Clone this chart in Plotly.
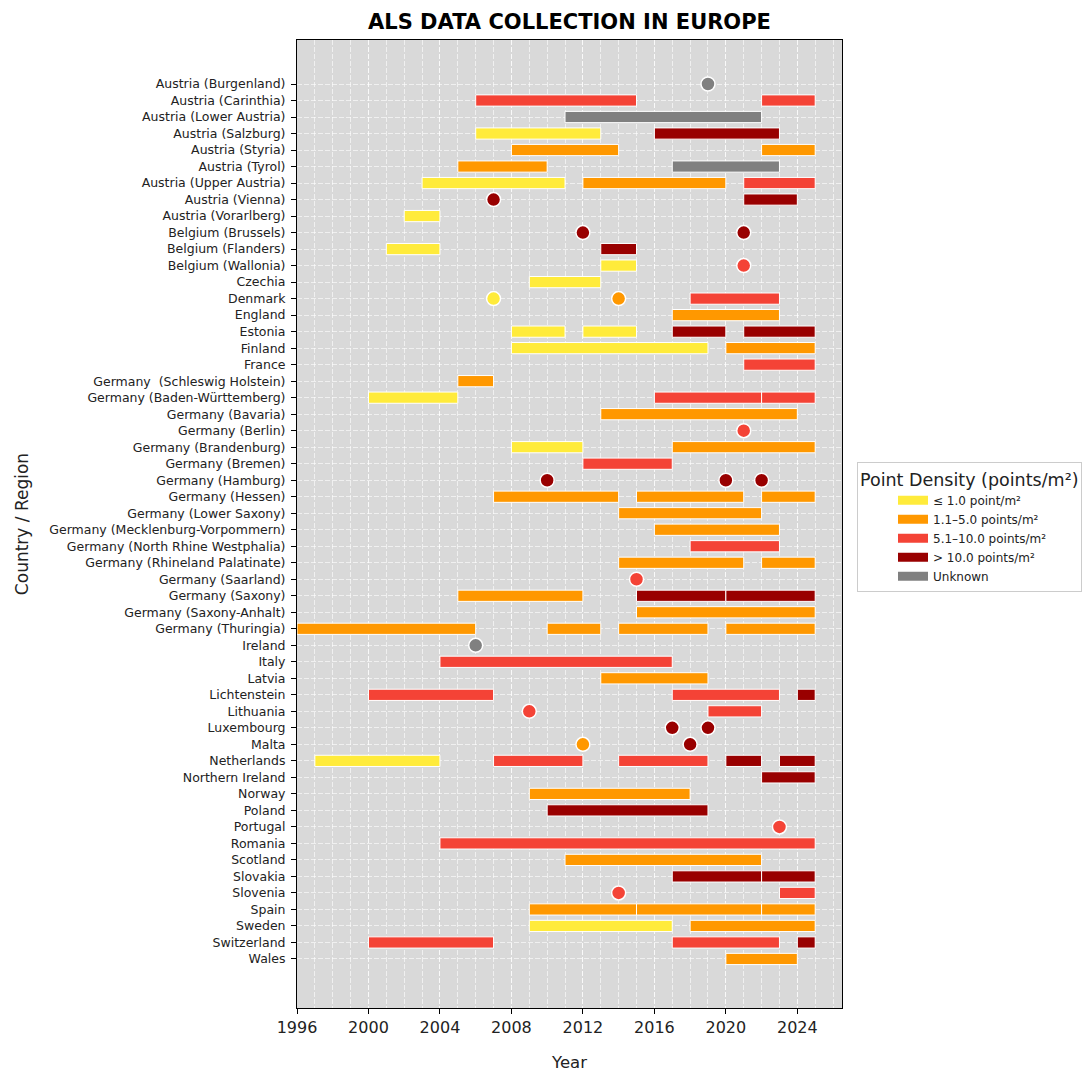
import plotly.graph_objects as go

# Regions, top to bottom
regions = [
    "Austria (Burgenland)", "Austria (Carinthia)", "Austria (Lower Austria)",
    "Austria (Salzburg)", "Austria (Styria)", "Austria (Tyrol)",
    "Austria (Upper Austria)", "Austria (Vienna)", "Austria (Vorarlberg)",
    "Belgium (Brussels)", "Belgium (Flanders)", "Belgium (Wallonia)",
    "Czechia", "Denmark", "England", "Estonia", "Finland", "France",
    "Germany  (Schleswig Holstein)", "Germany (Baden-Württemberg)",
    "Germany (Bavaria)", "Germany (Berlin)", "Germany (Brandenburg)",
    "Germany (Bremen)", "Germany (Hamburg)", "Germany (Hessen)",
    "Germany (Lower Saxony)", "Germany (Mecklenburg-Vorpommern)",
    "Germany (North Rhine Westphalia)", "Germany (Rhineland Palatinate)",
    "Germany (Saarland)", "Germany (Saxony)", "Germany (Saxony-Anhalt)",
    "Germany (Thuringia)", "Ireland", "Italy", "Latvia", "Lichtenstein",
    "Lithuania", "Luxembourg", "Malta", "Netherlands", "Northern Ireland",
    "Norway", "Poland", "Portugal", "Romania", "Scotland", "Slovakia",
    "Slovenia", "Spain", "Sweden", "Switzerland", "Wales",
]

# Density classes (legend order) and their colours
classes = ["≤ 1.0 point/m²", "1.1–5.0 points/m²", "5.1–10.0 points/m²",
           "> 10.0 points/m²", "Unknown"]
class_colors = ["#FFEB3B", "#FF9800", "#F44336", "#990000", "#808080"]

# Multi-year acquisition campaigns: region, start year, end year, class index
bar_regions = [
    "Austria (Carinthia)", "Austria (Carinthia)",
    "Austria (Lower Austria)",
    "Austria (Salzburg)", "Austria (Salzburg)",
    "Austria (Styria)", "Austria (Styria)",
    "Austria (Tyrol)", "Austria (Tyrol)",
    "Austria (Upper Austria)", "Austria (Upper Austria)", "Austria (Upper Austria)",
    "Austria (Vienna)",
    "Austria (Vorarlberg)",
    "Belgium (Flanders)", "Belgium (Flanders)",
    "Belgium (Wallonia)",
    "Czechia",
    "Denmark",
    "England",
    "Estonia", "Estonia", "Estonia", "Estonia",
    "Finland", "Finland",
    "France",
    "Germany  (Schleswig Holstein)",
    "Germany (Baden-Württemberg)", "Germany (Baden-Württemberg)", "Germany (Baden-Württemberg)",
    "Germany (Bavaria)",
    "Germany (Brandenburg)", "Germany (Brandenburg)",
    "Germany (Bremen)",
    "Germany (Hessen)", "Germany (Hessen)", "Germany (Hessen)",
    "Germany (Lower Saxony)",
    "Germany (Mecklenburg-Vorpommern)",
    "Germany (North Rhine Westphalia)",
    "Germany (Rhineland Palatinate)", "Germany (Rhineland Palatinate)",
    "Germany (Saxony)", "Germany (Saxony)", "Germany (Saxony)",
    "Germany (Saxony-Anhalt)",
    "Germany (Thuringia)", "Germany (Thuringia)", "Germany (Thuringia)", "Germany (Thuringia)",
    "Italy",
    "Latvia",
    "Lichtenstein", "Lichtenstein", "Lichtenstein",
    "Lithuania",
    "Netherlands", "Netherlands", "Netherlands", "Netherlands", "Netherlands",
    "Northern Ireland",
    "Norway",
    "Poland",
    "Romania",
    "Scotland",
    "Slovakia", "Slovakia",
    "Slovenia",
    "Spain", "Spain", "Spain",
    "Sweden", "Sweden",
    "Switzerland", "Switzerland", "Switzerland",
    "Wales",
]
bar_starts = [
    2006, 2022,
    2011,
    2006, 2016,
    2008, 2022,
    2005, 2017,
    2003, 2012, 2021,
    2021,
    2002,
    2001, 2013,
    2013,
    2009,
    2018,
    2017,
    2008, 2012, 2017, 2021,
    2008, 2020,
    2021,
    2005,
    2000, 2016, 2022,
    2013,
    2008, 2017,
    2012,
    2007, 2015, 2022,
    2014,
    2016,
    2018,
    2014, 2022,
    2005, 2015, 2020,
    2015,
    1996, 2010, 2014, 2020,
    2004,
    2013,
    2000, 2017, 2024,
    2019,
    1997, 2007, 2014, 2020, 2023,
    2022,
    2009,
    2010,
    2004,
    2011,
    2017, 2022,
    2023,
    2009, 2015, 2022,
    2009, 2018,
    2000, 2017, 2024,
    2020,
]
bar_ends = [
    2015, 2025,
    2022,
    2013, 2023,
    2014, 2025,
    2010, 2023,
    2011, 2020, 2025,
    2024,
    2004,
    2004, 2015,
    2015,
    2013,
    2023,
    2023,
    2011, 2015, 2020, 2025,
    2019, 2025,
    2025,
    2007,
    2005, 2022, 2025,
    2024,
    2012, 2025,
    2017,
    2014, 2021, 2025,
    2022,
    2023,
    2023,
    2021, 2025,
    2012, 2020, 2025,
    2025,
    2006, 2013, 2019, 2025,
    2017,
    2019,
    2007, 2023, 2025,
    2022,
    2004, 2012, 2019, 2022, 2025,
    2025,
    2018,
    2019,
    2025,
    2022,
    2022, 2025,
    2025,
    2015, 2022, 2025,
    2017, 2025,
    2007, 2023, 2025,
    2024,
]
bar_classes = [
    2, 2,
    4,
    0, 3,
    1, 1,
    1, 4,
    0, 1, 2,
    3,
    0,
    0, 3,
    0,
    0,
    2,
    1,
    0, 0, 3, 3,
    0, 1,
    2,
    1,
    0, 2, 2,
    1,
    0, 1,
    2,
    1, 1, 1,
    1,
    1,
    2,
    1, 1,
    1, 3, 3,
    1,
    1, 1, 1, 1,
    2,
    1,
    2, 2, 3,
    2,
    0, 2, 2, 3, 3,
    3,
    1,
    3,
    2,
    1,
    3, 3,
    2,
    1, 1, 1,
    0, 1,
    2, 2, 3,
    1,
]

# Single-year acquisitions: region, year, class index
point_regions = [
    "Austria (Burgenland)", "Austria (Vienna)",
    "Belgium (Brussels)", "Belgium (Brussels)", "Belgium (Wallonia)",
    "Denmark", "Denmark", "Germany (Berlin)",
    "Germany (Hamburg)", "Germany (Hamburg)", "Germany (Hamburg)",
    "Germany (Saarland)", "Ireland", "Lithuania",
    "Luxembourg", "Luxembourg", "Malta", "Malta",
    "Portugal", "Slovenia",
]
point_years = [
    2019, 2007,
    2012, 2021, 2021,
    2007, 2014, 2021,
    2010, 2020, 2022,
    2015, 2006, 2009,
    2017, 2019, 2012, 2018,
    2023, 2014,
]
point_classes = [
    4, 3,
    3, 3, 2,
    0, 1, 2,
    3, 3, 3,
    2, 4, 2,
    3, 3, 1, 3,
    2, 2,
]

x_ticks = [1996, 2000, 2004, 2008, 2012, 2016, 2020, 2024]

row_of = {name: i for i, name in enumerate(regions)}

fig = go.Figure()

# Campaign bars, one trace per density class
for ci, color in enumerate(class_colors):
    idx = [k for k, c in enumerate(bar_classes) if c == ci]
    fig.add_trace(go.Bar(
        orientation="h",
        y=[row_of[bar_regions[k]] for k in idx],
        base=[bar_starts[k] for k in idx],
        x=[bar_ends[k] - bar_starts[k] for k in idx],
        width=0.68,
        marker=dict(color=color, line=dict(color="white", width=1)),
        name=classes[ci],
        showlegend=False,
        hovertemplate="%{base}–%{x}<extra></extra>",
    ))

# Single-year acquisitions as dots
for ci, color in enumerate(class_colors):
    idx = [k for k, c in enumerate(point_classes) if c == ci]
    if not idx:
        continue
    fig.add_trace(go.Scatter(
        x=[point_years[k] for k in idx],
        y=[row_of[point_regions[k]] for k in idx],
        mode="markers",
        marker=dict(color=color, size=14, line=dict(color="white", width=1.5)),
        showlegend=False,
        hoverinfo="skip",
    ))

# Legend keys drawn as wide colour patches
for label, color in zip(classes, class_colors):
    fig.add_trace(go.Scatter(
        x=[None], y=[None], mode="lines",
        line=dict(color=color, width=9),
        name=label,
        hoverinfo="skip",
    ))

grid_color = "rgba(255,255,255,0.6)"
grid_dash = "5px,2px"

fig.update_layout(
    width=1087,
    height=1072,
    margin=dict(l=297, r=245, t=40, b=64, autoexpand=False),
    paper_bgcolor="white",
    plot_bgcolor="#D9D9D9",
    barmode="overlay",
    font=dict(family="DejaVu Sans", color="#222222"),
    title=dict(
        text="<b>ALS DATA COLLECTION IN EUROPE</b>",
        x=(297 + 842) / 2 / 1087, xanchor="center",
        y=1 - 22 / 1072, yanchor="middle", yref="container",
        font=dict(size=21, color="black"),
    ),
    legend=dict(
        title=dict(text="Point Density (points/m²)", font=dict(size=17.5, color="#222222")),
        font=dict(size=12, color="#222222"),
        x=(857 - 297) / 545, xanchor="left",
        y=(1008 - 462) / 968, yanchor="top",
        bgcolor="white",
        bordercolor="#CCCCCC",
        borderwidth=1,
        indentation=35,
        tracegroupgap=0,
    ),
)

fig.update_xaxes(
    range=[1996, 2026.5],
    tickvals=x_ticks,
    ticks="outside", ticklen=5, tickcolor="black",
    tickfont=dict(size=16, color="#222222"),
    title=dict(text="Year", font=dict(size=16.5, color="#222222"), standoff=22),
    showline=True, mirror=True, linecolor="black", linewidth=1,
    showgrid=True, gridcolor=grid_color, griddash=grid_dash, gridwidth=1,
    minor=dict(dtick=1, tick0=1996, showgrid=True, gridcolor=grid_color,
               griddash=grid_dash, gridwidth=1),
    zeroline=False,
)

fig.update_yaxes(
    range=[55.97, -2.665],
    tickvals=list(range(len(regions))),
    ticktext=regions,
    ticks="outside", ticklen=5, tickcolor="black",
    ticklabelstandoff=3,
    tickfont=dict(size=12.5, color="#222222"),
    title=dict(text="Country / Region", font=dict(size=17, color="#222222"), standoff=16),
    showline=True, mirror=True, linecolor="black", linewidth=1,
    showgrid=True, gridcolor=grid_color, griddash=grid_dash, gridwidth=1,
    zeroline=False,
)

fig.write_html("out.html")
